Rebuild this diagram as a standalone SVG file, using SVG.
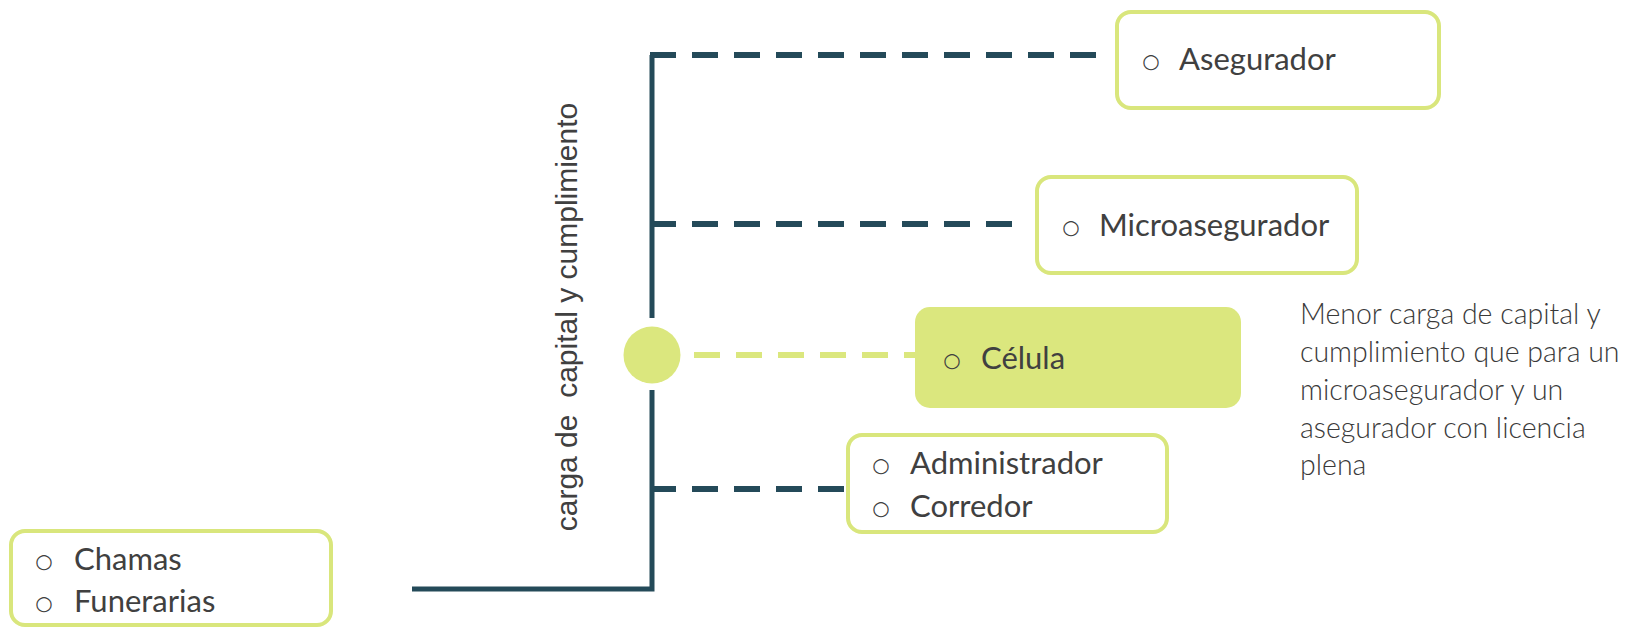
<svg xmlns="http://www.w3.org/2000/svg" width="1648" height="627" viewBox="0 0 1648 627">
  <style>
    .box { fill: #ffffff; stroke: #d9e67c; stroke-width: 4; }
    .box-filled { fill: #dbe77e; stroke: none; }
    .label { font-family: Lato, "Open Sans", "Liberation Sans", sans-serif; font-size: 31px; fill: #404040; }
    .bullet { font-family: "DejaVu Sans", sans-serif; font-size: 20px; fill: #404040; text-anchor: middle; }
    .trunk { stroke: #244a59; stroke-width: 5; fill: none; }
    .dash { stroke: #244a59; stroke-width: 6; fill: none; stroke-dasharray: 26 16; }
    .dash-light { stroke: #dbe77e; stroke-width: 6; fill: none; stroke-dasharray: 26 16; }
    .axis-label { font-family: "Liberation Sans", Arial, sans-serif; font-size: 30px; fill: #404040; white-space: pre; }
    .note { font-family: Lato, "Open Sans", "Liberation Sans", sans-serif; font-weight: 300; font-size: 28.5px; fill: #3a3a3a; }
  </style>

  <!-- connectors -->
  <g id="connectors">
    <polyline class="trunk" points="412,589 652,589 652,390"/>
    <polyline class="trunk" points="652,318 652,55"/>
    <line class="dash" x1="650" y1="55" x2="1098" y2="55"/>
    <line class="dash" x1="650" y1="224" x2="1016" y2="224"/>
    <line class="dash" x1="650" y1="489" x2="848" y2="489"/>
    <line class="dash-light" x1="694" y1="355" x2="916" y2="355"/>
  </g>

  <!-- hub marker on the trunk -->
  <g id="hub">
    <circle cx="652" cy="355" r="28.5" fill="#dbe77e"/>
  </g>

  <!-- rotated axis caption -->
  <g id="axis">
    <text class="axis-label" x="317" y="0" text-anchor="middle" transform="translate(577,634) rotate(-90)" xml:space="preserve">carga de  capital y cumplimiento</text>
  </g>

  <g id="asegurador">
    <rect class="box" x="1117" y="12" width="322" height="96" rx="14"/>
    <text class="bullet" x="1151" y="68">○</text>
    <text class="label" x="1179" y="70">Asegurador</text>
  </g>

  <g id="microasegurador">
    <rect class="box" x="1037" y="177" width="320" height="96" rx="14"/>
    <text class="bullet" x="1071" y="234">○</text>
    <text class="label" x="1099" y="236">Microasegurador</text>
  </g>

  <g id="celula">
    <rect class="box-filled" x="915" y="307" width="326" height="101" rx="15"/>
    <text class="bullet" x="952" y="367">○</text>
    <text class="label" x="981" y="369">Célula</text>
  </g>

  <g id="administrador-corredor">
    <rect class="box" x="848" y="435" width="319" height="97" rx="14"/>
    <text class="bullet" x="881" y="472">○</text>
    <text class="label" x="910" y="474">Administrador</text>
    <text class="bullet" x="881" y="515">○</text>
    <text class="label" x="910" y="517">Corredor</text>
  </g>

  <g id="chamas-funerarias">
    <rect class="box" x="11" y="531" width="320" height="94" rx="14"/>
    <text class="bullet" x="44" y="568">○</text>
    <text class="label" x="74" y="570">Chamas</text>
    <text class="bullet" x="44" y="610">○</text>
    <text class="label" x="74" y="612">Funerarias</text>
  </g>

  <g id="nota-celula">
    <text class="note" x="1300" y="324">Menor carga de capital y</text>
    <text class="note" x="1300" y="362">cumplimiento que para un</text>
    <text class="note" x="1300" y="400">microasegurador y un</text>
    <text class="note" x="1300" y="438">asegurador con licencia</text>
    <text class="note" x="1300" y="475">plena</text>
  </g>
</svg>
